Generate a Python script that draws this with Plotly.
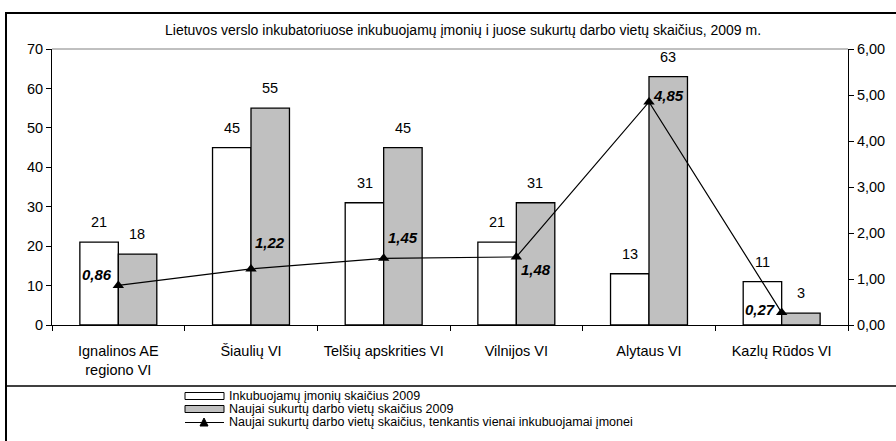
import plotly.graph_objects as go

categories = ["Ignalinos AE<br>regiono VI", "Šiaulių VI", "Telšių apskrities VI",
              "Vilnijos VI", "Alytaus VI", "Kazlų Rūdos VI"]
firms = [21, 45, 31, 21, 13, 11]
jobs = [18, 55, 45, 31, 63, 3]
ratio = [0.86, 1.22, 1.45, 1.48, 4.85, 0.27]
ratio_labels = ["0,86", "1,22", "1,45", "1,48", "4,85", "0,27"]
# pixel offsets for ratio labels (style only)
ratio_offsets = [(-21, 11), (19, 26), (19, 21), (20, -13), (19, 6), (-22, 3)]

series_names = ["Inkubuojamų įmonių skaičius 2009",
                "Naujai sukurtų darbo vietų skaičius 2009",
                "Naujai sukurtų darbo vietų skaičius, tenkantis vienai inkubuojamai įmonei"]
title = "Lietuvos verslo inkubatoriuose inkubuojamų įmonių i juose sukurtų darbo vietų skaičius, 2009 m."

FONT = "Liberation Sans, Arial, sans-serif"
W, H = 896, 441
L, R, T, B = 52, 48, 49, 116
PW, PH = W - L - R, H - T - B
FS = 14.5


def px(x):
    return (x - L) / PW


def py(y):
    return (H - B - y) / PH


fig = go.Figure()
fig.add_trace(go.Bar(x=categories, y=firms, name=series_names[0],
                     marker=dict(color="white", line=dict(color="black", width=1.3)),
                     showlegend=False))
fig.add_trace(go.Bar(x=categories, y=jobs, name=series_names[1],
                     marker=dict(color="#C0C0C0", line=dict(color="black", width=1.3)),
                     showlegend=False))
fig.add_trace(go.Scatter(x=categories, y=ratio, yaxis="y2", name=series_names[2],
                         mode="lines+markers",
                         line=dict(color="black", width=1.2),
                         marker=dict(symbol="triangle-up", size=10, color="black"),
                         showlegend=False))

annotations = []
for c, v in zip(categories, firms):
    annotations.append(dict(x=c, y=v, xref="x", yref="y", text=str(v), showarrow=False,
                            xshift=-19, yshift=20, font=dict(family=FONT, size=FS, color="black")))
for c, v in zip(categories, jobs):
    annotations.append(dict(x=c, y=v, xref="x", yref="y", text=str(v), showarrow=False,
                            xshift=19, yshift=20, font=dict(family=FONT, size=FS, color="black")))
for c, v, t, (dx, dy) in zip(categories, ratio, ratio_labels, ratio_offsets):
    annotations.append(dict(x=c, y=v, xref="x", yref="y2", text="<b><i>" + t + "</i></b>",
                            showarrow=False, xshift=dx, yshift=dy,
                            font=dict(family=FONT, size=15, color="black")))
# title
annotations.append(dict(x=px(463), y=py(30), xref="paper", yref="paper", text=title,
                        showarrow=False, xanchor="center", yanchor="middle",
                        font=dict(family=FONT, size=14, color="black")))
# legend text
legend_rows = [396, 409, 422]
for name, yy in zip(series_names, legend_rows):
    annotations.append(dict(x=px(227), y=py(yy), xref="paper", yref="paper", text=name,
                            showarrow=False, xanchor="left", yanchor="middle",
                            font=dict(family=FONT, size=12.5, color="black")))

shapes = [
    # outer border
    dict(type="rect", xref="paper", yref="paper", x0=px(6), x1=px(905), y0=py(13), y1=py(450),
         line=dict(color="black", width=2), fillcolor="rgba(0,0,0,0)", layer="below"),
    # divider above legend
    dict(type="line", xref="paper", yref="paper", x0=px(6), x1=px(905), y0=py(386), y1=py(386),
         line=dict(color="black", width=1.5)),
    # top border of plot area
    dict(type="line", xref="paper", yref="paper", x0=0, x1=1, y0=1, y1=1,
         line=dict(color="#808080", width=1)),
    # legend symbols
    dict(type="rect", xref="paper", yref="paper", x0=px(185), x1=px(224), y0=py(392.5), y1=py(399.5),
         line=dict(color="black", width=1), fillcolor="white"),
    dict(type="rect", xref="paper", yref="paper", x0=px(185), x1=px(224), y0=py(405.5), y1=py(412.5),
         line=dict(color="black", width=1), fillcolor="#C0C0C0"),
    dict(type="line", xref="paper", yref="paper", x0=px(185), x1=px(224), y0=py(422.5), y1=py(422.5),
         line=dict(color="black", width=1.2)),
    dict(type="path", xref="paper", yref="paper",
         path=f"M {px(200)} {py(426)} L {px(208)} {py(426)} L {px(204)} {py(418)} Z",
         fillcolor="black", line=dict(color="black", width=1)),
]

fig.update_layout(
    width=W, height=H,
    margin=dict(l=L, r=R, t=T, b=B, autoexpand=False),
    paper_bgcolor="white", plot_bgcolor="white",
    barmode="group", bargap=0.42, bargroupgap=0,
    separators=",.",
    font=dict(family=FONT, size=FS, color="black"),
    annotations=annotations, shapes=shapes,
    xaxis=dict(type="category", showline=True, linecolor="black", linewidth=1,
               ticks="outside", ticklen=5, tickcolor="black", tickson="boundaries",
               showgrid=False, ticklabelstandoff=13,
               tickfont=dict(family=FONT, size=FS)),
    yaxis=dict(range=[0, 70], dtick=10, showline=True, linecolor="black", linewidth=1,
               ticks="outside", ticklen=5, tickcolor="black", showgrid=False, zeroline=False,
               tickfont=dict(family=FONT, size=FS)),
    yaxis2=dict(range=[0, 6], dtick=1, tickformat=".2f", overlaying="y", side="right",
                showline=True, linecolor="black", linewidth=1, ticks="outside", ticklen=5,
                tickcolor="black", showgrid=False, zeroline=False,
                tickfont=dict(family=FONT, size=FS)),
)

fig.write_html("out.html", config={"displayModeBar": False})

# remove the default page margin so the figure sits at the window's top-left corner
with open("out.html", "r", encoding="utf-8") as f:
    html = f.read()
html = html.replace("<head>", "<head><style>html,body{margin:0;padding:0;overflow:hidden;}</style>", 1)
with open("out.html", "w", encoding="utf-8") as f:
    f.write(html)
